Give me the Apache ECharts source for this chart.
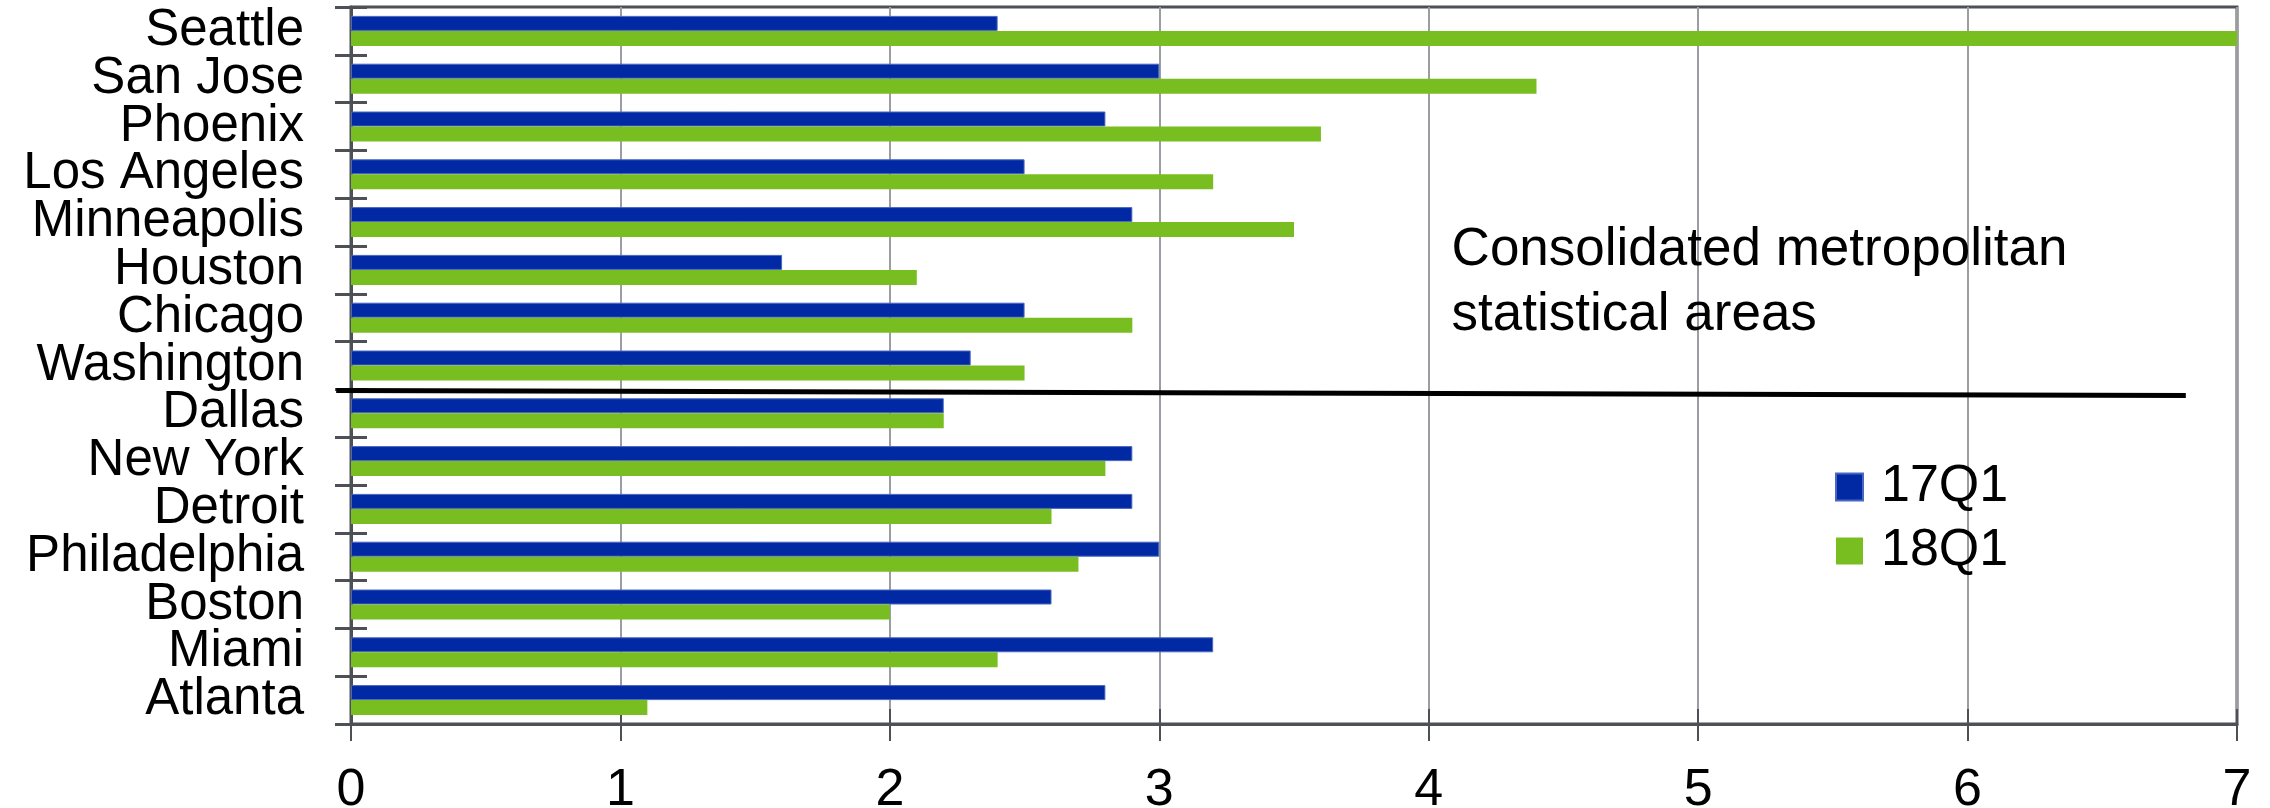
<!DOCTYPE html>
<html>
<head>
<meta charset="utf-8">
<script src="https://cdn.jsdelivr.net/npm/echarts@6/dist/echarts.min.js"></script>
<style>
  html, body { margin: 0; padding: 0; background: #ffffff; }
  #chart { width: 2270px; height: 808px; }
</style>
</head>
<body>
<div id="chart"></div>
<script>
// Metro areas, listed top to bottom
const cities = ['Seattle', 'San Jose', 'Phoenix', 'Los Angeles', 'Minneapolis', 'Houston', 'Chicago',
  'Washington', 'Dallas', 'New York', 'Detroit', 'Philadelphia', 'Boston', 'Miami', 'Atlanta'];
const q17 = [2.4, 3.0, 2.8, 2.5, 2.9, 1.6, 2.5, 2.3, 2.2, 2.9, 2.9, 3.0, 2.6, 3.2, 2.8];
const q18 = [7.0, 4.4, 3.6, 3.2, 3.5, 2.1, 2.9, 2.5, 2.2, 2.8, 2.6, 2.7, 2.0, 2.4, 1.1];
const seriesNames = ['17Q1', '18Q1'];
const xTicks = [0, 1, 2, 3, 4, 5, 6, 7];
const noteText = 'Consolidated metropolitan\nstatistical areas';
// the divider sits between these two groups
const dividerAbove = 'Washington';
const dividerBelow = 'Dallas';

const FONT = '"Liberation Sans", Arial, sans-serif';
const AXIS = '#4d5156';
const BLUE = '#0029a3';
const GREEN = '#78be20';

const chart = echarts.init(document.getElementById('chart'), null, { renderer: 'canvas' });

const xBase = {
  type: 'value',
  min: xTicks[0],
  max: xTicks[xTicks.length - 1],
  interval: 1,
  position: 'bottom'
};
const yBase = {
  type: 'category',
  data: cities,
  inverse: true,
  position: 'left',
  boundaryGap: true
};

chart.setOption({
  animation: false,
  backgroundColor: '#ffffff',
  textStyle: { fontFamily: FONT },
  grid: {
    left: 351, right: 33, top: 7, bottom: 84,
    containLabel: false,
    outerBoundsMode: 'none',
    show: true, borderColor: AXIS, borderWidth: 3, backgroundColor: 'transparent'
  },
  legend: {
    orient: 'vertical',
    left: 1835,
    top: 461,
    padding: 0,
    itemWidth: 27,
    itemHeight: 27,
    itemGap: 12,
    icon: 'rect',
    data: seriesNames,
    textStyle: { fontFamily: FONT, fontSize: 52, color: '#000', padding: [0, 0, 0, 13] }
  },
  xAxis: [
    Object.assign({}, xBase, {
      axisLine: { show: true, lineStyle: { color: AXIS, width: 3 } },
      axisTick: { show: true, inside: false, length: 17, lineStyle: { color: AXIS, width: 2 } },
      axisLabel: { fontFamily: FONT, fontSize: 52, color: '#000', margin: 41 },
      splitLine: { show: true, lineStyle: { color: '#9a9ea3', width: 2 } }
    }),
    Object.assign({}, xBase, {
      axisLine: { show: false },
      axisTick: { show: true, inside: true, length: 15, lineStyle: { color: AXIS, width: 2 } },
      axisLabel: { show: false },
      splitLine: { show: false }
    })
  ],
  yAxis: [
    Object.assign({}, yBase, {
      axisLine: { show: true, lineStyle: { color: AXIS, width: 3 } },
      axisTick: { show: true, inside: false, length: 16, lineStyle: { color: AXIS, width: 3 } },
      axisLabel: { interval: 0, fontFamily: FONT, fontSize: 51, color: '#000', margin: 47 },
      splitLine: { show: false }
    }),
    Object.assign({}, yBase, {
      axisLine: { show: false },
      axisTick: { show: true, inside: true, length: 16, lineStyle: { color: AXIS, width: 3 } },
      axisLabel: { show: false },
      splitLine: { show: false }
    })
  ],
  series: [
    {
      name: seriesNames[0], type: 'bar', xAxisIndex: 0, yAxisIndex: 0,
      data: q17, barGap: '0%', barWidth: 15,
      itemStyle: { color: BLUE, borderColor: '#4a66c0', borderWidth: 1 },
      emphasis: { disabled: true }
    },
    {
      name: seriesNames[1], type: 'bar', xAxisIndex: 0, yAxisIndex: 0,
      data: q18, barGap: '0%', barWidth: 15,
      itemStyle: { color: GREEN },
      emphasis: { disabled: true }
    }
  ]
});

// Divider line between the two groups of metro areas, plus the group note
const yA = chart.convertToPixel({ yAxisIndex: 0 }, dividerAbove);
const yB = chart.convertToPixel({ yAxisIndex: 0 }, dividerBelow);
const yMid = (yA + yB) / 2;
const xStart = chart.convertToPixel({ xAxisIndex: 0 }, -0.055);
const xEnd = chart.convertToPixel({ xAxisIndex: 0 }, 6.81);
const xNote = chart.convertToPixel({ xAxisIndex: 0 }, 4.085);

chart.setOption({
  graphic: [
    {
      type: 'line',
      shape: { x1: xStart, y1: yMid + 1, x2: xEnd, y2: yMid + 6 },
      style: { stroke: '#000', lineWidth: 5 },
      z: 100
    },
    {
      type: 'text',
      x: xNote,
      y: 218,
      style: {
        text: noteText,
        font: '53px ' + FONT,
        fill: '#000',
        lineHeight: 65,
        verticalAlign: 'top',
        align: 'left'
      },
      z: 100
    }
  ]
});
</script>
</body>
</html>
